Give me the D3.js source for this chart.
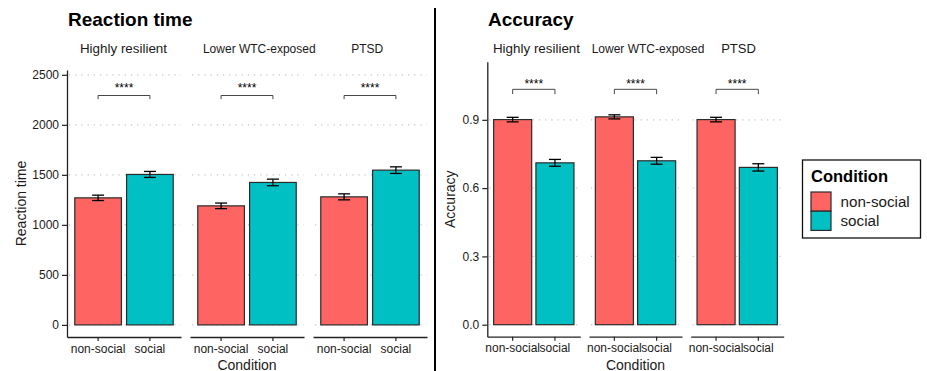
<!DOCTYPE html>
<html>
<head>
<meta charset="utf-8">
<script src="https://cdn.jsdelivr.net/npm/d3@7"></script>
<style>
  body { margin: 0; background: #fff; }
  svg { display: block; font-family: "Liberation Sans", Arial, Helvetica, sans-serif; }
</style>
</head>
<body>
<svg id="chart" width="927" height="371"></svg>
<script>
// ---------- data ----------
const groups = ["Highly resilient", "Lower WTC-exposed", "PTSD"];
const conditions = ["non-social", "social"];

const rtNonSocial   = [1270, 1190, 1280];
const rtSocial      = [1504, 1424, 1547];
const rtNonSocialSE = [27, 28, 30];
const rtSocialSE    = [30, 33, 33];

const accNonSocial   = [0.901, 0.913, 0.901];
const accSocial      = [0.711, 0.720, 0.691];
const accNonSocialSE = [0.010, 0.009, 0.010];
const accSocialSE    = [0.015, 0.015, 0.016];

const rtTicks  = [0, 500, 1000, 1500, 2000, 2500];
const accTicks = [0.0, 0.3, 0.6, 0.9];

const sigLabels = ["****", "****", "****"];
const rtSig  = { line: 2293, leg: 2257, label: 2400 };
const accSig = { line: 1.034, leg: 1.013, label: 1.069 };

const colors = ["#FE6562", "#00C0C4"];

// ---------- layout ----------
const svg = d3.select("#chart");
const FONT = "'Liberation Sans', Arial, Helvetica, sans-serif";
const TXT = "#1a1a1a";

const panels = [
  {
    title: "Reaction time", ytitle: "Reaction time",
    means: [rtNonSocial, rtSocial], ses: [rtNonSocialSE, rtSocialSE],
    ticks: rtTicks, fmt: d3.format("d"), sig: rtSig,
    yDomain: [-121, 2548], yRange: [337, 70],
    xRange: [67, 427], facetPad: 0.0732,
    titleX: 68, ytitleX: 26,
    stripOffset: [-0.5, 12.3, -2.7], stripSize: [13.4, 12, 12]
  },
  {
    title: "Accuracy", ytitle: "Accuracy",
    means: [accNonSocial, accSocial], ses: [accNonSocialSE, accSocialSE],
    ticks: accTicks, fmt: d3.format(".1f"), sig: accSig,
    yDomain: [-0.0527, 1.1553], yRange: [336.7, 61.7],
    xRange: [487.3, 783.7], facetPad: 0.0855,
    titleX: 488, ytitleX: 454.5,
    stripOffset: [2.7, 12.5, 1.3], stripSize: [13.4, 12, 13]
  }
];

panels.forEach(p => {
  const y = d3.scaleLinear().domain(p.yDomain).range(p.yRange);
  const fx = d3.scaleBand().domain(groups).range(p.xRange).paddingInner(p.facetPad).paddingOuter(0);
  const g = svg.append("g");

  // title
  g.append("text").attr("x", p.titleX).attr("y", 26)
    .attr("font-size", 19).attr("font-weight", "bold").attr("fill", "#000")
    .text(p.title);

  // y title
  const yMid = (p.yRange[0] + p.yRange[1]) / 2;
  g.append("text")
    .attr("transform", `translate(${p.ytitleX},${yMid}) rotate(-90)`)
    .attr("text-anchor", "middle").attr("font-size", 14).attr("fill", TXT)
    .text(p.ytitle);

  // y axis
  const yAxis = d3.axisLeft(y).tickValues(p.ticks).tickFormat(p.fmt).tickSize(5).tickSizeOuter(0).tickPadding(3);
  const ya = g.append("g").attr("transform", `translate(${p.xRange[0]},0)`).call(yAxis);
  ya.select(".domain").attr("stroke", "#222").attr("stroke-width", 1.3);
  ya.selectAll(".tick line").attr("stroke", "#222").attr("stroke-width", 1.2);
  ya.selectAll(".tick text").attr("font-size", 12).attr("font-family", FONT).attr("fill", TXT);

  groups.forEach((grp, gi) => {
    const x0 = fx(grp), x1 = x0 + fx.bandwidth();
    const x = d3.scaleBand().domain(conditions).range([x0, x1]).paddingInner(0.1).paddingOuter(0.15);

    // gridlines
    g.append("g").selectAll("line").data(p.ticks).join("line")
      .attr("x1", x0 + 2).attr("x2", x1)
      .attr("y1", d => y(d)).attr("y2", d => y(d))
      .attr("stroke", "#c4c4c4").attr("stroke-width", 1.2)
      .attr("stroke-dasharray", "1.2,5");

    // strip label
    g.append("text").attr("x", (x0 + x1) / 2 + p.stripOffset[gi]).attr("y", 53)
      .attr("text-anchor", "middle").attr("font-size", p.stripSize[gi]).attr("fill", TXT)
      .text(grp);

    // bars
    conditions.forEach((c, ci) => {
      const v = p.means[ci][gi], se = p.ses[ci][gi];
      g.append("rect")
        .attr("x", x(c)).attr("width", x.bandwidth())
        .attr("y", y(v)).attr("height", y(0) - y(v))
        .attr("fill", colors[ci]).attr("stroke", "#2b2b2b").attr("stroke-width", 1.2);
      const cx = x(c) + x.bandwidth() / 2;
      const hw = 6;
      const eb = g.append("g").attr("stroke", "#000").attr("stroke-width", 1.3);
      eb.append("line").attr("x1", cx).attr("x2", cx).attr("y1", y(v - se)).attr("y2", y(v + se));
      eb.append("line").attr("x1", cx - hw).attr("x2", cx + hw).attr("y1", y(v - se)).attr("y2", y(v - se));
      eb.append("line").attr("x1", cx - hw).attr("x2", cx + hw).attr("y1", y(v + se)).attr("y2", y(v + se));
    });

    // significance bracket
    const ca = x(conditions[0]) + x.bandwidth() / 2;
    const cb = x(conditions[1]) + x.bandwidth() / 2;
    g.append("path")
      .attr("d", `M${ca},${y(p.sig.leg)}V${y(p.sig.line)}H${cb}V${y(p.sig.leg)}`)
      .attr("fill", "none").attr("stroke", "#333").attr("stroke-width", 0.9);
    g.append("text").attr("x", (ca + cb) / 2).attr("y", y(p.sig.label) + 6.8)
      .attr("text-anchor", "middle").attr("font-size", 12).attr("fill", "#000")
      .text(sigLabels[gi]);

    // x axis per facet
    const xAxis = d3.axisBottom(x).tickSize(4).tickSizeOuter(0).tickPadding(3);
    const xa = g.append("g").attr("transform", `translate(0,${p.yRange[0]})`).call(xAxis);
    xa.select(".domain").attr("stroke", "#222").attr("stroke-width", 1.3);
    xa.selectAll(".tick line").attr("stroke", "#222").attr("stroke-width", 1.2);
    xa.selectAll(".tick text").attr("font-size", 12).attr("font-family", FONT).attr("fill", TXT);
  });

  // x title
  const xMid = (p.xRange[0] + p.xRange[1]) / 2;
  g.append("text").attr("x", xMid).attr("y", 369.5)
    .attr("text-anchor", "middle").attr("font-size", 14).attr("fill", TXT)
    .text("Condition");
});

// divider
svg.append("line").attr("x1", 435).attr("x2", 435).attr("y1", 8).attr("y2", 371)
  .attr("stroke", "#000").attr("stroke-width", 2);

// legend
const lg = svg.append("g");
lg.append("rect").attr("x", 802.5).attr("y", 160).attr("width", 118).attr("height", 78)
  .attr("fill", "#fff").attr("stroke", "#111").attr("stroke-width", 1.3);
lg.append("text").attr("x", 811).attr("y", 182).attr("font-size", 16.5).attr("font-weight", "bold")
  .attr("fill", "#000").text("Condition");
conditions.forEach((c, i) => {
  lg.append("rect").attr("x", 811).attr("y", 192 + i * 19.2).attr("width", 20).attr("height", 19.2)
    .attr("fill", colors[i]).attr("stroke", "#2b2b2b").attr("stroke-width", 1.2);
  lg.append("text").attr("x", 840.5).attr("y", 207 + i * 19.2).attr("font-size", 15.2)
    .attr("fill", TXT).text(c);
});
</script>
</body>
</html>
